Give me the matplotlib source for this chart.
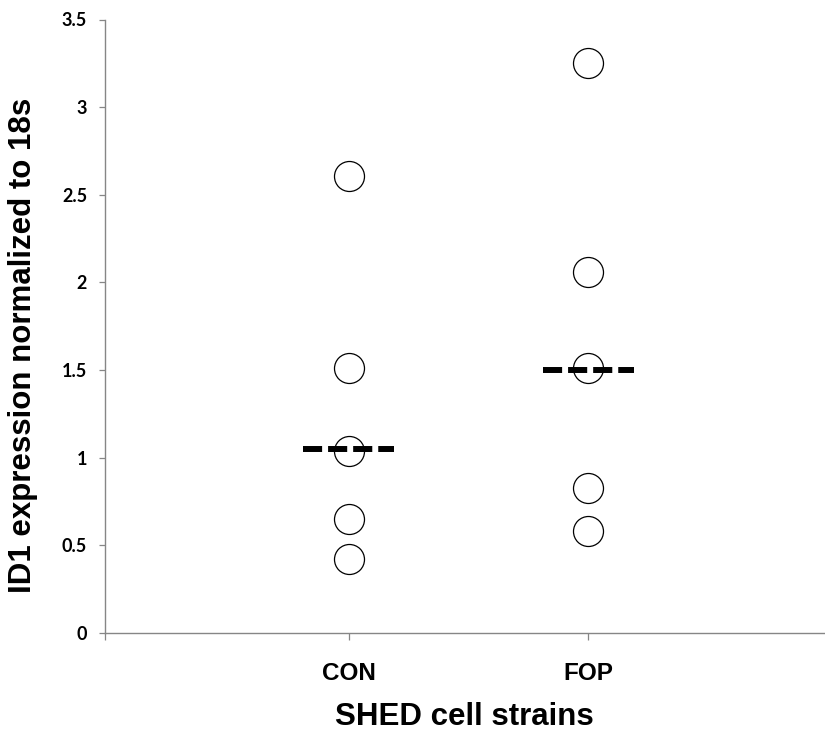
import matplotlib
matplotlib.use("Agg")
import matplotlib.pyplot as plt

categories = ["CON", "FOP"]
con_values = [2.61, 1.51, 1.04, 0.65, 0.42]
fop_values = [3.25, 2.06, 1.51, 0.83, 0.58]
medians = [1.05, 1.50]
y_ticks = [0, 0.5, 1, 1.5, 2, 2.5, 3, 3.5]
y_tick_labels = ["0", "0.5", "1", "1.5", "2", "2.5", "3", "3.5"]

fig = plt.figure(figsize=(8.25, 7.35), dpi=100)
ax = fig.add_axes([104.5/825, 102/735, 720.5/825, 613.5/735])

spine_col = "#868686"
for i, vals in enumerate([con_values, fop_values]):
    x = i + 1
    ax.plot([x]*len(vals), vals, linestyle="none", marker="o", markersize=21.6,
            markerfacecolor="white", markeredgecolor="black", markeredgewidth=0.9, zorder=3)
    ax.plot([x - 0.19, x + 0.19], [medians[i], medians[i]], color="black", lw=4.3,
            linestyle=(0, (3.2, 1.0)), solid_capstyle="butt", dash_capstyle="butt", zorder=4)

x0, x1 = -0.02, 2.99
ax.set_xlim(x0, x1)
ax.set_ylim(0, 3.5)
ax.set_xticks([x0, 1, 2])
ax.set_xticklabels(["", categories[0], categories[1]],
                   fontfamily="Liberation Sans", fontweight="bold", fontsize=17.5)
ax.set_yticks(y_ticks)
ax.set_yticklabels(y_tick_labels, fontfamily="Lato", fontweight="bold", fontsize=13)

ax.tick_params(axis="y", length=4.5, width=0.9, color=spine_col, pad=8)
ax.tick_params(axis="x", length=5, width=0.9, color=spine_col, pad=16)

for s in ["top", "right"]:
    ax.spines[s].set_visible(False)
for s in ["left", "bottom"]:
    ax.spines[s].set_color(spine_col)
    ax.spines[s].set_linewidth(1.0)

ax.set_xlabel("SHED cell strains", fontfamily="Liberation Sans", fontweight="bold",
              fontsize=22.5, labelpad=12)
ax.set_ylabel("ID1 expression normalized to 18s", fontfamily="Liberation Sans",
              fontweight="bold", fontsize=22.5)
ax.yaxis.set_label_coords(-66/720.5, 0.469, transform=ax.transAxes)

fig.savefig("out.png", dpi=100)
